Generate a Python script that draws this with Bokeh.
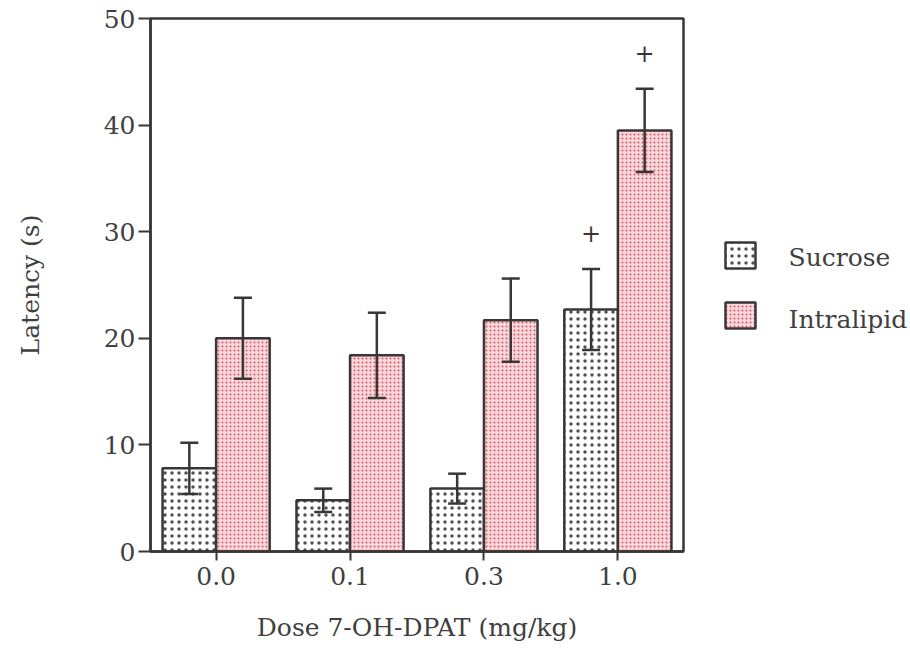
from bokeh.plotting import figure
from bokeh.layouts import row
from bokeh.models import (ColumnDataSource, Whisker, TeeHead, FixedTicker,
                          Range1d)
from bokeh.core.properties import value
from bokeh.embed import file_html
from bokeh.resources import INLINE

# Latency by dose of 7-OH-DPAT, mean and SEM
doses = ["0.0", "0.1", "0.3", "1.0"]
sucrose_mean = [7.8, 4.8, 5.9, 22.7]
sucrose_sem = [2.4, 1.1, 1.4, 3.8]
intralipid_mean = [20.0, 18.4, 21.7, 39.5]
intralipid_sem = [3.8, 4.0, 3.9, 3.9]
# significance marks ("+" above the bar) per dose
sucrose_sig = ["", "", "", "+"]
intralipid_sig = ["", "", "", "+"]
series_names = ["Sucrose", "Intralipid"]

FONT = "DejaVu Serif"
FS = "25px"
INK = "#3a3636"
TEXT = "#3f3f3f"

SUC_STYLE = dict(fill_color="white", line_color=INK, line_width=2.5,
                 hatch_pattern="dot", hatch_color="#505050",
                 hatch_scale=7, hatch_weight=2.0)
INT_STYLE = dict(fill_color="#f9d8db", line_color=INK, line_width=2.5,
                 hatch_pattern="dot", hatch_color="#d95568",
                 hatch_scale=4, hatch_weight=1.6)

idx = list(range(len(doses)))
bw = 0.4
src_s = ColumnDataSource(dict(
    x=[i - bw / 2 for i in idx], top=sucrose_mean,
    lo=[m - e for m, e in zip(sucrose_mean, sucrose_sem)],
    hi=[m + e for m, e in zip(sucrose_mean, sucrose_sem)],
    sig=sucrose_sig))
src_i = ColumnDataSource(dict(
    x=[i + bw / 2 for i in idx], top=intralipid_mean,
    lo=[m - e for m, e in zip(intralipid_mean, intralipid_sem)],
    hi=[m + e for m, e in zip(intralipid_mean, intralipid_sem)],
    sig=intralipid_sig))

p = figure(width=700, height=669, output_backend="svg", toolbar_location=None,
           x_range=Range1d(-0.49, 3.49), y_range=Range1d(0, 50),
           min_border_left=150, min_border_right=17,
           min_border_top=18, min_border_bottom=118)
p.xgrid.visible = False
p.ygrid.visible = False
p.background_fill_color = "white"
p.border_fill_color = "white"
p.outline_line_color = INK
p.outline_line_width = 2.5
p.outline_line_alpha = 1.0

p.vbar(x="x", top="top", bottom=0, width=bw, source=src_s, **SUC_STYLE)
p.vbar(x="x", top="top", bottom=0, width=bw, source=src_i, **INT_STYLE)

for src in (src_s, src_i):
    w = Whisker(base="x", lower="lo", upper="hi", source=src,
                line_color=INK, line_width=2.5, level="overlay",
                upper_head=TeeHead(size=18, line_color=INK, line_width=2.5),
                lower_head=TeeHead(size=18, line_color=INK, line_width=2.5))
    p.add_layout(w)
    p.text(x="x", y="hi", text="sig", source=src, y_offset=-36,
           text_align="center", text_baseline="middle",
           text_font=value(FONT), text_font_size="24px", text_color=INK)

# axes
for ax in (p.xaxis[0], p.yaxis[0]):
    ax.axis_line_color = INK
    ax.axis_line_width = 2.5
    ax.major_tick_line_color = INK
    ax.major_tick_line_width = 2
    ax.minor_tick_line_color = None
    ax.major_label_text_font = FONT
    ax.major_label_text_font_size = FS
    ax.major_label_text_color = TEXT
    ax.axis_label_text_font = FONT
    ax.axis_label_text_font_size = FS
    ax.axis_label_text_font_style = "normal"
    ax.axis_label_text_color = TEXT
    ax.major_tick_in = 0

p.xaxis.ticker = FixedTicker(ticks=idx)
p.xaxis.major_label_overrides = {i: d for i, d in zip(idx, doses)}
p.xaxis.major_tick_out = 9
p.xaxis.major_label_standoff = 6
p.xaxis.axis_label = "Dose 7-OH-DPAT (mg/kg)"
p.xaxis.axis_label_standoff = 25

p.yaxis.ticker = FixedTicker(ticks=[0, 10, 20, 30, 40, 50])
p.yaxis.major_tick_out = 12
p.yaxis.major_label_standoff = 3
p.yaxis.axis_label = "Latency (s)"
p.yaxis.axis_label_standoff = 56

# key panel to the right of the chart; its y axis runs in pixels from the
# top of the row so the swatches line up with the chart frame
W2 = 210
key = figure(width=W2, height=669, output_backend="svg", toolbar_location=None,
             x_range=Range1d(0, W2), y_range=Range1d(551, 18),
             min_border_left=0, min_border_right=0,
             min_border_top=18, min_border_bottom=118,
             outline_line_color=None)
key.axis.visible = False
key.grid.visible = False
key.rect(x=[40], y=[255], width=30, height=26, **SUC_STYLE)
key.rect(x=[40], y=[315], width=30, height=26, **INT_STYLE)
key_src = ColumnDataSource(dict(x=[88, 88], y=[257, 319], label=series_names))
key.text(x="x", y="y", text="label", source=key_src,
         text_align="left", text_baseline="middle",
         text_font=value(FONT), text_font_size=FS, text_color=TEXT)

layout = row(p, key, spacing=0)
open("out.html", "w").write(file_html(layout, INLINE))
